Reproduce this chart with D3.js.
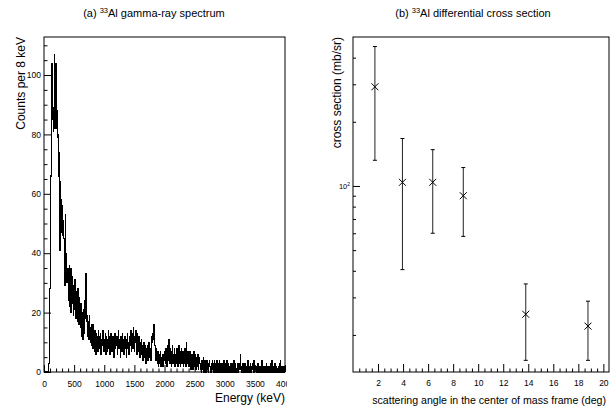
<!DOCTYPE html>
<html>
<head>
<meta charset="utf-8">
<script src="https://cdn.jsdelivr.net/npm/d3@7/dist/d3.min.js"></script>
<style>
  body { margin: 0; background: #fff; }
  svg { display: block; font-family: "Liberation Sans", Arial, sans-serif; }
</style>
</head>
<body>
<div class="chart"></div>
<script>
// gamma-ray spectrum, counts per 8 keV bin, 0 .. 4000 keV (500 bins)
var binWidth = 8;
var spectrumCounts = [
  0, 0, 0, 0, 0, 0, 0, 0, 0, 0, 3, 12, 28, 46, 66, 67, 104, 85, 89, 81, 88, 107, 82, 95, 104,
  83, 88, 82, 79, 80, 72, 66, 74, 41, 64, 52, 58, 47, 56, 46, 51, 45, 39, 29, 53, 40, 36, 30, 33, 35,
  31, 24, 36, 22, 33, 20, 35, 26, 23, 32, 25, 19, 29, 21, 31, 24, 18, 27, 20, 17, 28, 19, 16, 25, 18,
  15, 23, 17, 12, 20, 11, 17, 21, 13, 18, 24, 27, 33, 22, 17, 19, 12, 17, 11, 19, 14, 10, 15, 9, 16,
  13, 8, 16, 12, 7, 14, 11, 6, 13, 10, 12, 7, 11, 14, 9, 12, 8, 13, 6, 11, 9, 12, 14, 10, 7,
  11, 9, 13, 6, 12, 10, 7, 11, 14, 8, 10, 12, 6, 13, 9, 11, 7, 10, 12, 8, 5, 11, 13, 8, 10,
  9, 12, 6, 10, 14, 8, 11, 9, 5, 12, 10, 7, 13, 9, 11, 6, 10, 12, 8, 9, 11, 5, 10, 13, 8,
  10, 6, 12, 9, 11, 14, 7, 10, 13, 8, 15, 11, 7, 12, 10, 14, 8, 13, 6, 11, 10, 12, 7, 9, 5,
  10, 7, 11, 6, 9, 4, 8, 10, 5, 9, 7, 3, 8, 6, 9, 4, 7, 10, 5, 8, 7, 4, 8, 10, 12,
  13, 11, 14, 16, 12, 9, 6, 4, 8, 5, 3, 7, 2, 5, 6, 3, 7, 2, 5, 2, 4, 6, 2, 5, 4,
  5, 7, 3, 8, 6, 2, 9, 4, 7, 11, 5, 3, 8, 4, 2, 7, 9, 3, 6, 4, 8, 2, 6, 3, 7,
  4, 8, 2, 6, 3, 9, 4, 7, 2, 6, 8, 3, 5, 7, 2, 6, 3, 8, 4, 2, 10, 5, 3, 7, 4,
  2, 6, 3, 7, 1, 5, 2, 6, 3, 1, 5, 7, 2, 4, 6, 1, 5, 2, 4, 6, 1, 3, 5, 3, 1,
  3, 0, 4, 1, 3, 5, 0, 2, 4, 2, 1, 0, 3, 4, 1, 3, 0, 2, 4, 2, 1, 0, 3, 1, 4,
  1, 3, 0, 4, 2, 0, 3, 1, 4, 0, 2, 3, 0, 2, 4, 1, 0, 3, 1, 0, 3, 2, 0, 4, 1,
  0, 3, 1, 0, 4, 2, 0, 3, 1, 0, 2, 3, 0, 2, 1, 3, 1, 0, 2, 4, 0, 2, 3, 0, 1,
  0, 2, 3, 0, 2, 1, 3, 6, 1, 0, 2, 0, 3, 1, 0, 2, 1, 3, 0, 2, 1, 2, 0, 4, 1,
  0, 2, 1, 3, 0, 0, 2, 1, 3, 0, 4, 0, 2, 1, 2, 0, 0, 2, 1, 3, 0, 0, 2, 1, 0,
  2, 0, 4, 1, 0, 2, 0, 1, 2, 0, 0, 3, 1, 2, 0, 1, 2, 0, 0, 2, 1, 3, 0, 4, 0,
  1, 2, 0, 1, 3, 0, 0, 2, 1, 0, 1, 2, 0, 0, 3, 4, 0, 2, 1, 0, 2, 1, 0, 2, 1
];
var energyTicks = [0, 500, 1000, 1500, 2000, 2500, 3000, 3500, 4000];
var countTicks = [0, 20, 40, 60, 80, 100];

// differential cross section (mb/sr)
var angles = [1.75, 3.95, 6.37, 8.81, 13.8, 18.77];
var crossSection = [292, 104, 104, 90, 25, 22];
var errHigh = [451, 167, 148, 122, 34.7, 28.8];
var errLow = [132, 40.5, 60, 58, 15.2, 15.2];
var angleTicks = [2, 4, 6, 8, 10, 12, 14, 16, 18, 20];

var svg = d3.select(".chart")
  .append("svg")
    .attr("width", 613)
    .attr("height", 408);

svg.append("rect").attr("width", 613).attr("height", 408).attr("fill", "#fff");

// ---------- (a) spectrum ----------
function drawSpectrum() {
  var left = 44, right = 285, top = 37, bottom = 372;

  svg.append("clipPath").attr("id", "padA")
    .append("rect").attr("x", 0).attr("y", 0).attr("width", 287).attr("height", 408);

  var g = svg.append("g").attr("clip-path", "url(#padA)");

  var x = d3.scaleLinear().domain([0, 4000]).range([left, right]);
  var y = d3.scaleLinear().domain([0, 112.8]).range([bottom, top]);

  // histogram outline
  var pts = spectrumCounts.map(function(c, i) { return [i * binWidth, c]; });
  pts.push([4000, spectrumCounts[spectrumCounts.length - 1]]);
  var line = d3.line()
    .x(function(d) { return x(d[0]); })
    .y(function(d) { return y(d[1]); })
    .curve(d3.curveStepAfter);
  g.append("path")
    .datum(pts)
    .attr("d", line)
    .attr("fill", "none")
    .attr("stroke", "#000")
    .attr("stroke-width", 1.1)
    .attr("shape-rendering", "crispEdges");

  // minor ticks
  var xMinor = d3.range(0, 4001, 100).filter(function(v) { return v % 500 != 0; });
  var yMinor = d3.range(0, 113, 5).filter(function(v) { return v % 20 != 0; });

  g.append("g")
    .attr("transform", "translate(0," + bottom + ")")
    .call(d3.axisBottom(x).tickValues(xMinor).tickSize(-3.5).tickFormat(""));
  g.append("g")
    .attr("transform", "translate(0," + bottom + ")")
    .call(d3.axisBottom(x).tickValues(energyTicks).tickSize(-7).tickPadding(9).tickFormat(d3.format("d")))
    .selectAll("text").attr("font-size", 8.5);
  g.append("g")
    .attr("transform", "translate(" + left + ",0)")
    .call(d3.axisLeft(y).tickValues(yMinor).tickSize(-3.5).tickFormat(""));
  g.append("g")
    .attr("transform", "translate(" + left + ",0)")
    .call(d3.axisLeft(y).tickValues(countTicks).tickSize(-7).tickPadding(3))
    .selectAll("text").attr("font-size", 8.5);

  g.selectAll(".domain").remove();
  g.selectAll(".tick line").attr("stroke", "#000");
  g.selectAll(".tick text").attr("fill", "#000").attr("font-family", "Liberation Sans, Arial, sans-serif");

  // frame
  g.append("rect")
    .attr("x", left).attr("y", top)
    .attr("width", right - left).attr("height", bottom - top)
    .attr("fill", "none").attr("stroke", "#000");

  // titles
  var t = svg.append("text")
    .attr("x", 154).attr("y", 17)
    .attr("text-anchor", "middle")
    .attr("font-size", 11);
  t.append("tspan").text("(a) ");
  t.append("tspan").attr("font-size", 7.5).attr("dy", -4).text("33");
  t.append("tspan").attr("dy", 4).text("Al gamma-ray spectrum");

  svg.append("text")
    .attr("x", right).attr("y", 402)
    .attr("text-anchor", "end")
    .attr("font-size", 12)
    .text("Energy (keV)");

  svg.append("text")
    .attr("transform", "translate(25," + top + ") rotate(-90)")
    .attr("text-anchor", "end")
    .attr("font-size", 12)
    .text("Counts per 8 keV");
}

// ---------- (b) cross section ----------
function drawCrossSection() {
  var left = 353, right = 609, top = 37, bottom = 372;

  var g = svg.append("g");

  var x = d3.scaleLinear().domain([0, 20.45]).range([left, right]);
  var y = d3.scaleLog().domain([13.4, 500]).range([bottom, top]);

  var xMinor = d3.range(0.5, 20.5, 0.5).filter(function(v) { return v % 2 != 0; });
  var yMinor = [20, 30, 40, 50, 60, 70, 80, 90, 200, 300, 400];

  g.append("g")
    .attr("transform", "translate(0," + bottom + ")")
    .call(d3.axisBottom(x).tickValues(xMinor).tickSize(-3.5).tickFormat(""));
  g.append("g")
    .attr("transform", "translate(0," + bottom + ")")
    .call(d3.axisBottom(x).tickValues(angleTicks).tickSize(-8).tickPadding(8))
    .selectAll("text").attr("font-size", 8.5);
  g.append("g")
    .attr("transform", "translate(" + left + ",0)")
    .call(d3.axisLeft(y).tickValues(yMinor).tickSize(-3).tickFormat(""));
  g.append("g")
    .attr("transform", "translate(" + left + ",0)")
    .call(d3.axisLeft(y).tickValues([100]).tickSize(-7).tickPadding(3).tickFormat(""));

  g.selectAll(".domain").remove();
  g.selectAll(".tick line").attr("stroke", "#000");
  g.selectAll(".tick text").attr("fill", "#000").attr("font-family", "Liberation Sans, Arial, sans-serif");

  // 10^2 label
  var lab = g.append("text")
    .attr("x", left - 3).attr("y", y(100) + 3)
    .attr("text-anchor", "end")
    .attr("font-size", 7.5);
  lab.append("tspan").text("10");
  lab.append("tspan").attr("font-size", 5).attr("dy", -3).text("2");

  // error bars
  var pts = angles.map(function(a, i) {
    return {x: a, y: crossSection[i], hi: errHigh[i], lo: errLow[i]};
  });
  var bars = g.selectAll(".err").data(pts).enter().append("g").attr("class", "err");
  bars.append("line")
    .attr("x1", function(d) { return x(d.x); })
    .attr("x2", function(d) { return x(d.x); })
    .attr("y1", function(d) { return y(d.lo); })
    .attr("y2", function(d) { return y(d.hi); })
    .attr("stroke", "#222");
  bars.append("line")
    .attr("x1", function(d) { return x(d.x) - 2; })
    .attr("x2", function(d) { return x(d.x) + 2; })
    .attr("y1", function(d) { return y(d.hi); })
    .attr("y2", function(d) { return y(d.hi); })
    .attr("stroke", "#000");
  bars.append("line")
    .attr("x1", function(d) { return x(d.x) - 2; })
    .attr("x2", function(d) { return x(d.x) + 2; })
    .attr("y1", function(d) { return y(d.lo); })
    .attr("y2", function(d) { return y(d.lo); })
    .attr("stroke", "#000");
  // x markers
  bars.append("path")
    .attr("d", function(d) {
      var cx = x(d.x), cy = y(d.y), s = 3.5;
      return "M" + (cx - s) + "," + (cy - s) + "L" + (cx + s) + "," + (cy + s) +
             "M" + (cx - s) + "," + (cy + s) + "L" + (cx + s) + "," + (cy - s);
    })
    .attr("stroke", "#000")
    .attr("fill", "none");

  // frame
  g.append("rect")
    .attr("x", left).attr("y", top)
    .attr("width", right - left).attr("height", bottom - top)
    .attr("fill", "none").attr("stroke", "#000");

  var t = svg.append("text")
    .attr("x", 473).attr("y", 17)
    .attr("text-anchor", "middle")
    .attr("font-size", 11);
  t.append("tspan").text("(b) ");
  t.append("tspan").attr("font-size", 7.5).attr("dy", -4).text("33");
  t.append("tspan").attr("dy", 4).text("Al differential cross section");

  svg.append("text")
    .attr("x", 606).attr("y", 404)
    .attr("text-anchor", "end")
    .attr("font-size", 10.6)
    .text("scattering angle in the center of mass frame (deg)");

  svg.append("text")
    .attr("transform", "translate(341," + top + ") rotate(-90)")
    .attr("text-anchor", "end")
    .attr("font-size", 12)
    .text("cross section (mb/sr)");
}

drawSpectrum();
drawCrossSection();
</script>
</body>
</html>
